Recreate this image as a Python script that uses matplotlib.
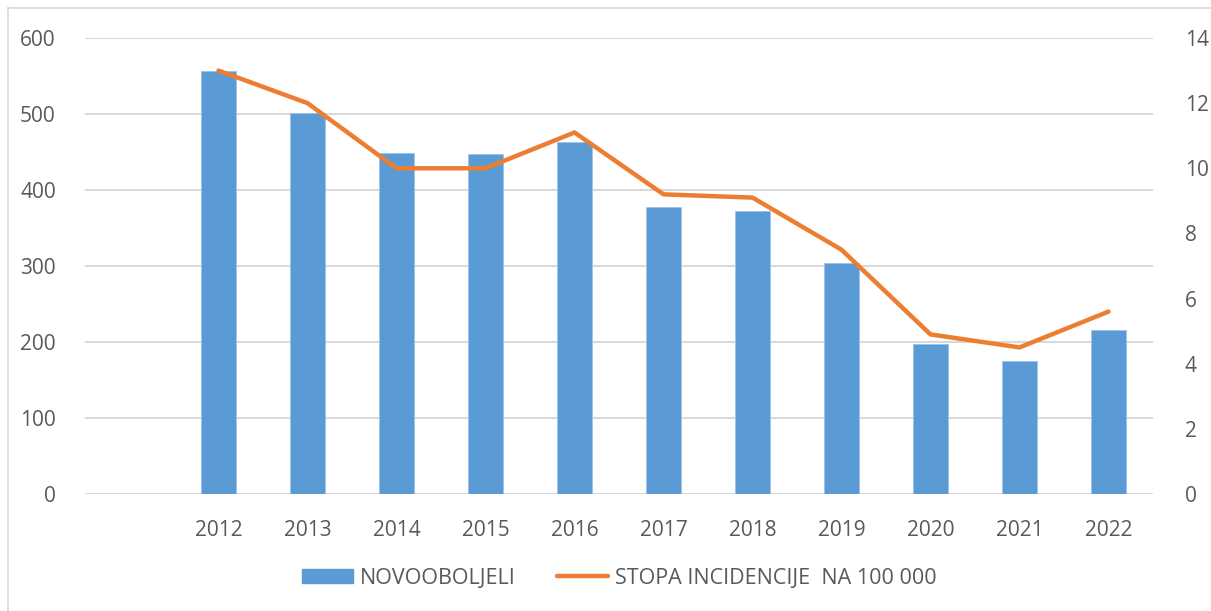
import matplotlib.pyplot as plt
from matplotlib.patches import Patch
from matplotlib.lines import Line2D

years = ['2012', '2013', '2014', '2015', '2016', '2017', '2018', '2019', '2020', '2021', '2022']
novooboljeli = [556, 501, 449, 448, 463, 377, 372, 304, 197, 175, 216]
stopa = [13.0, 12.0, 10.0, 10.0, 11.1, 9.2, 9.1, 7.5, 4.9, 4.5, 5.6]

blue = '#5B9BD5'
orange = '#ED7D31'
grid_c = '#D9D9D9'
txt_c = '#595959'

plt.rcParams['font.family'] = ['Open Sans', 'DejaVu Sans']

fig = plt.figure(figsize=(12.11, 6.11), dpi=100)
ax = fig.add_axes([85 / 1211, 1 - 494 / 611, (1153 - 85) / 1211, (494 - 38) / 611])
ax2 = ax.twinx()

x = list(range(len(years)))
ax.bar(x, novooboljeli, width=0.4, color=blue, edgecolor='#9DC3E6', linewidth=0.6, zorder=2)
ax2.plot(x, stopa, color=orange, linewidth=3.2, solid_capstyle='round', solid_joinstyle='round', zorder=3)

# prazno mjesto prije 2012 kao u originalu
ax.set_xlim(-1.5, 10.5)
ax.set_ylim(0, 600)
ax2.set_ylim(0, 14)
ax.set_yticks(range(0, 601, 100))
ax2.set_yticks(range(0, 15, 2))
ax.set_xticks(x)
ax.set_xticklabels(years)

for a in (ax, ax2):
    for s in a.spines.values():
        s.set_visible(False)
    a.tick_params(length=0, labelsize=15, labelcolor=txt_c)
ax.tick_params(axis='y', pad=21)
ax.tick_params(axis='x', pad=19)
ax2.tick_params(axis='y', pad=23)

ax.yaxis.grid(True, color=grid_c, linewidth=1.5, zorder=0)
ax.set_axisbelow(True)

handles = [Patch(facecolor=blue, edgecolor=blue),
           Line2D([0], [0], color=orange, linewidth=3.2, solid_capstyle='round')]
fig.legend(handles, ['NOVOOBOLJELI', 'STOPA INCIDENCIJE  NA 100 000'],
           loc='center', bbox_to_anchor=(619 / 1211, 1 - 578 / 611), ncol=2,
           frameon=False, fontsize=15.5, labelcolor=txt_c,
           handlelength=2.4, handleheight=0.65, handletextpad=0.3, columnspacing=1.9)

# okvir grafikona
fig.add_artist(Line2D([8 / 1211, 8 / 1211], [0, 1 - 8 / 611], color='#D9D9D9', linewidth=1.2))
fig.add_artist(Line2D([8 / 1211, 1], [1 - 8 / 611, 1 - 8 / 611], color='#D9D9D9', linewidth=1.2))

fig.savefig('out.png', dpi=100)
